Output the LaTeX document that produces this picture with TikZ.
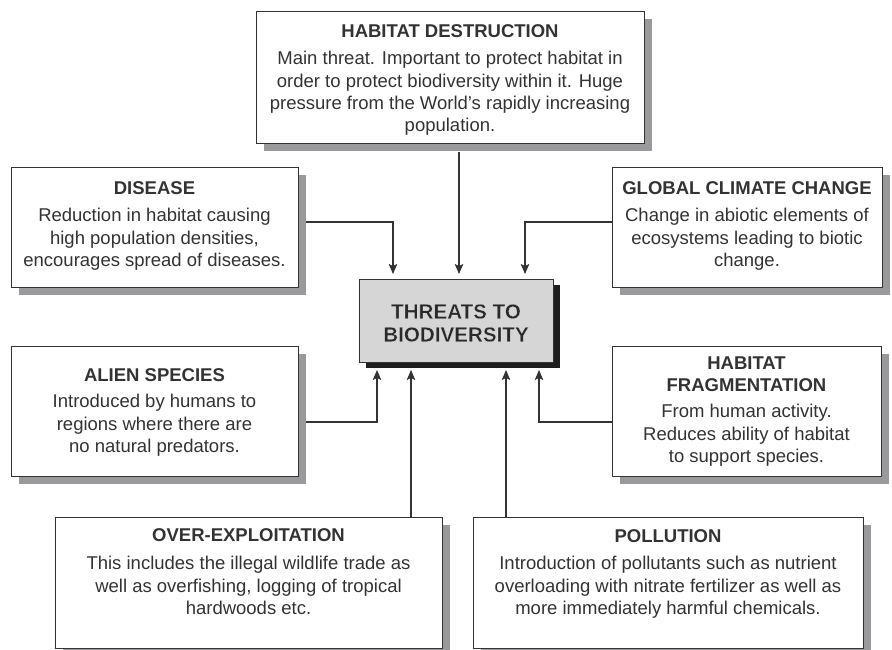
\documentclass[tikz,border=0pt]{standalone}
\usepackage{fontspec}
\setmainfont{Liberation Sans}
\usetikzlibrary{shadows,arrows.meta}
\definecolor{ink}{HTML}{333333}
\definecolor{ctrink}{HTML}{2A2A2A}
\definecolor{shade}{HTML}{9A9A9C}
\definecolor{ctrfill}{HTML}{D6D6D6}
\definecolor{ctrshade}{HTML}{1E1E1E}
\newcommand\haloline[1]{\special{pdf:code q 2 Tr 1 1 1 RG 0.12 w}#1\special{pdf:code Q}}
\begin{document}
\begin{tikzpicture}[x=1pt,y=-1pt,
 box/.style={draw=ink,line width=1.2pt,fill=white,rectangle,inner sep=0pt,anchor=north west,
   drop shadow={shadow xshift=7pt,shadow yshift=-7pt,fill=shade,opacity=1}},
 ctrbox/.style={draw=ink,line width=1pt,fill=ctrfill,rectangle,inner sep=0pt,anchor=north west,
   drop shadow={shadow xshift=6pt,shadow yshift=-5pt,fill=ctrshade,opacity=1}},
 txt/.style={anchor=north,inner sep=0pt,align=center,text=ink,font=\fontsize{18.5}{22.4}\selectfont},
 conn/.style={draw=ink,line width=1.1pt},
 arr/.style={conn,-{Stealth[length=10pt,width=8.5pt,inset=2pt]}}]
\useasboundingbox (0,0) rectangle (892,650);
\clip (0,0) rectangle (892,650);

% boxes
\node[box,minimum width=388pt,minimum height=132pt] (hd) at (256,11) {};
\node[box,minimum width=287pt,minimum height=120pt] (dis) at (11,167) {};
\node[box,minimum width=270pt,minimum height=120pt] (gcc) at (612,167) {};
\node[ctrbox,minimum width=194pt,minimum height=83pt] (ctr) at (359,279) {};
\node[box,minimum width=287pt,minimum height=130pt] (ali) at (11,346) {};
\node[box,minimum width=269pt,minimum height=130pt] (hf) at (612,346) {};
\node[box,minimum width=387pt,minimum height=131pt] (oe) at (55,517) {};
\node[box,minimum width=390pt,minimum height=131pt] (pol) at (473,517) {};

% texts
\node[txt] (hdt) at (450,24.5) {{\bfseries HABITAT DESTRUCTION}\\[4.6pt]
 Main threat. Important to protect habitat in\\
 order to protect biodiversity within it. Huge\\
 pressure from the World’s rapidly increasing\\
 population.};
\node[txt] (dist) at (154.5,181.5) {{\bfseries DISEASE}\\[4.6pt]
 Reduction in habitat causing\\
 high population densities,\\
 encourages spread of diseases.};
\node[txt] (gcct) at (747,181.5) {{\bfseries GLOBAL CLIMATE CHANGE}\\[4.6pt]
 Change in abiotic elements of\\
 ecosystems leading to biotic\\
 change.};
\node[txt] (alit) at (154.5,368.5) {{\bfseries ALIEN SPECIES}\\[3.6pt]
 Introduced by humans to\\
 regions where there are\\
 no natural predators.};
\node[txt] (hft) at (746.5,356.5) {{\bfseries HABITAT}\\{\bfseries FRAGMENTATION}\\[3.6pt]
 From human activity.\\
 Reduces ability of habitat\\
 to support species.};
\node[txt] (oet) at (248.5,528.5) {{\bfseries OVER-EXPLOITATION}\\[5.6pt]
 This includes the illegal wildlife trade as\\
 well as overfishing, logging of tropical\\
 hardwoods etc.};
\node[txt] (polt) at (668,529.5) {{\bfseries POLLUTION}\\[4.6pt]
 Introduction of pollutants such as nutrient\\
 overloading with nitrate fertilizer as well as\\
 more immediately harmful chemicals.};

% connector coordinates
\coordinate (b1) at (393,222);
\coordinate (t1) at (393,274);
\coordinate (t2) at (459,274);
\coordinate (b3) at (525,222);
\coordinate (t3) at (525,274);
\coordinate (b4) at (377,422);
\coordinate (t4) at (377,370);
\coordinate (t5) at (411,370);
\coordinate (t6) at (506,370);
\coordinate (b7) at (539,422);
\coordinate (t7) at (539,370);

% connectors
\draw[arr] ([xshift=7pt]dis.east |- b1) -- (b1) -- (t1);
\draw[arr] ([yshift=-8pt]hd.south -| t2) -- (t2);
\draw[arr] (gcc.west |- b3) -- (b3) -- (t3);
\draw[arr] ([xshift=7pt]ali.east |- b4) -- (b4) -- (t4);
\draw[arr] (oe.north -| t5) -- (t5);
\draw[arr] (pol.north -| t6) -- (t6);
\draw[arr] (hf.west |- b7) -- (b7) -- (t7);

% centre title (last, so its drawing state touches nothing else)
\node[txt,text=ctrink,font=\bfseries\fontsize{20.6}{23}\selectfont] (ctrt) at (456,304) {\haloline{THREATS TO}\\\haloline{BIODIVERSITY}};
\end{tikzpicture}
\end{document}
